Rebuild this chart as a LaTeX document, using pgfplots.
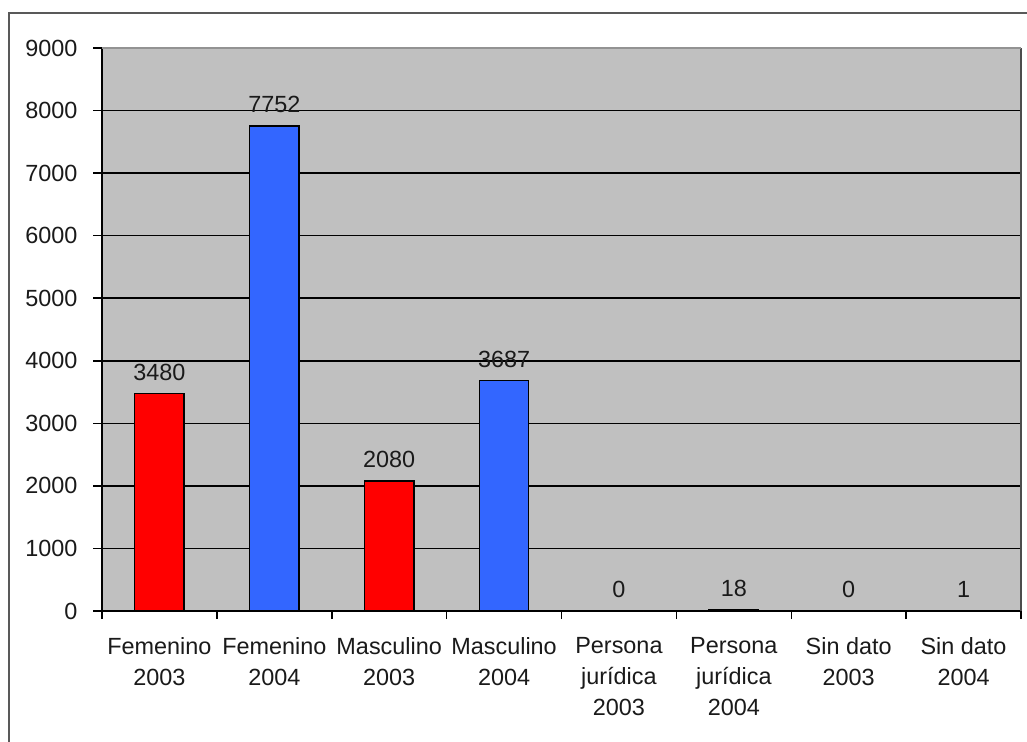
\documentclass[border=0pt]{standalone}
\usepackage{fontspec}
\setmainfont{Liberation Sans}
\usepackage{pgfplots}
\pgfplotsset{compat=1.18}
\definecolor{plotbg}{HTML}{C0C0C0}
\definecolor{barred}{HTML}{FF0000}
\definecolor{barblue}{HTML}{3366FF}
\definecolor{txt}{HTML}{1A1A1A}
\begin{document}
\begin{tikzpicture}[x=1bp,y=1bp]
  \path[use as bounding box] (0,0) rectangle (1027,-742);
  \fill[white] (0,0) rectangle (1027,-742);
  % frame around the chart
  \draw[gray!70!black, line width=2bp] (9,-742) -- (9,-13) -- (1030,-13);
  \begin{axis}[
    at={(102bp,-611bp)}, anchor=south west,
    scale only axis, width=919bp, height=563bp,
    xmin=-0.5, xmax=7.5, ymin=0, ymax=9000,
    ytick={0,1000,...,9000},
    xtick={0,...,7},
    minor xtick={-0.5,0.5,...,7.5},
    xticklabels={Femenino\\2003, Femenino\\2004, Masculino\\2003, Masculino\\2004,
      Persona\\jurídica\\2003, Persona\\jurídica\\2004, Sin dato\\2003, Sin dato\\2004},
    xticklabel style={align=center, font=\fontsize{23.5}{31}\selectfont, text=txt, anchor=north, yshift=-14bp},
    yticklabel style={font=\fontsize{23.5}{26}\selectfont, text=txt, xshift=-12bp},
    /pgf/number format/assume math mode=true,
    /pgf/number format/1000 sep={},
    scaled y ticks=false,
    axis background/.style={fill=plotbg},
    axis lines*=left,
    axis line style={black, line width=1.5bp, -},
    tick align=outside,
    major tick length=9bp,
    minor tick length=8bp,
    every tick/.style={black, line width=1.5bp},
    x tick style={draw=none},
    minor x tick style={draw=black, line width=1.5bp},
    ymajorgrids,
    grid style={black, line width=1.6bp},
    ybar, bar width=0.43, bar shift=0pt,
    nodes near coords,
    every node near coord/.style={font=\fontsize{23.5}{26}\selectfont, text=txt, yshift=9bp},
    clip=false,
  ]
    \addplot[fill=barred, draw=black, line width=1.3bp] coordinates {(0,3480) (2,2080) (4,0) (6,0)};
    \addplot[fill=barblue, draw=black, line width=1.3bp] coordinates {(1,7752) (3,3687) (5,18) (7,1)};
    \draw[gray!60!black, line width=1.5bp] (rel axis cs:1,0) -- (rel axis cs:1,1);
    \draw[gray!85, line width=1.5bp] (rel axis cs:0,1) -- (rel axis cs:1,1);
  \end{axis}
\end{tikzpicture}
\end{document}
